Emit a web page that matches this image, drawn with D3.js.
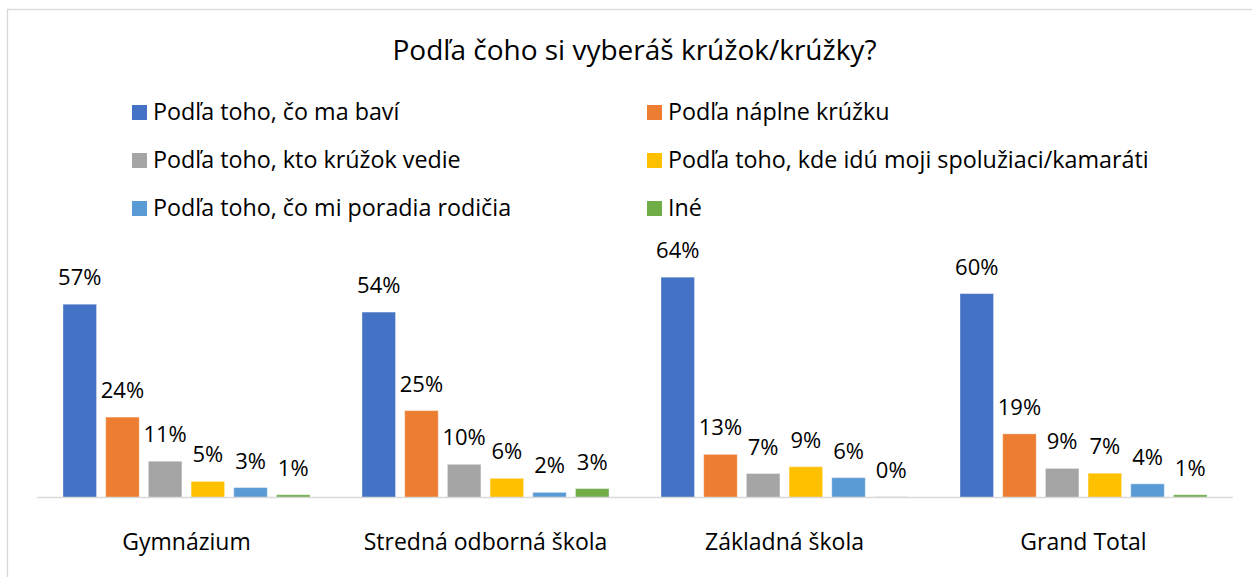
<!DOCTYPE html>
<html>
<head>
<meta charset="utf-8">
<script src="https://cdn.jsdelivr.net/npm/d3@7"></script>
<style>
body { margin: 0; background: #fff; }
text { font-family: "Open Sans", Lato, sans-serif; fill: #000; }
</style>
</head>
<body>
<svg width="1252" height="577"></svg>
<script>
// chart data
var title = 'Podľa čoho si vyberáš krúžok/krúžky?'
var categories = ['Gymnázium', 'Stredná odborná škola', 'Základná škola', 'Grand Total']
var series = ['Podľa toho, čo ma baví', 'Podľa náplne krúžku', 'Podľa toho, kto krúžok vedie',
	      'Podľa toho, kde idú moji spolužiaci/kamaráti', 'Podľa toho, čo mi poradia rodičia', 'Iné']
var colors = ['#4472C4', '#ED7D31', '#A5A5A5', '#FFC000', '#5B9BD5', '#70AD47']
// one array per series, values in % per category
var bavi = [56.5, 54.2, 64.4, 59.6]
var naplne = [23.5, 25.4, 12.6, 18.6]
var vedie = [10.6, 9.7, 7.0, 8.5]
var kamarati = [4.7, 5.6, 9.0, 7.1]
var rodicia = [2.9, 1.5, 5.8, 4.0]
var ine = [0.8, 2.6, 0.2, 0.8]
var values = [bavi, naplne, vedie, kamarati, rodicia, ine]

var svg = d3.select('svg')

svg.append('rect')
    .attr('x', 7.5).attr('y', 9.5)
    .attr('width', 1260).attr('height', 600)
    .attr('fill', 'none')
    .attr('stroke', '#D9D9D9')
    .attr('stroke-width', 1.3)

svg.append('text')
    .attr('x', 634.5).attr('y', 60)
    .attr('text-anchor', 'middle')
    .style('font-size', '28px')
    .text(title)

// legend, two columns
var legend = svg.append('g')
series.forEach(function(name, i) {
    var col = i % 2, row = Math.floor(i / 2)
    var gx = col == 0 ? 132 : 647
    var gy = 120 + row * 48
    legend.append('rect')
	.attr('x', gx).attr('y', gy - 15)
	.attr('width', 15).attr('height', 15)
	.attr('fill', colors[i])
    legend.append('text')
	.attr('x', gx + 21).attr('y', gy)
	.style('font-size', '23.3px')
	.text(name)
})

var baseline = 497.5
var x0 = d3.scaleBand()
    .domain(categories)
    .range([37, 1233])
    .paddingInner(0.174)
    .paddingOuter(0.087)
var x1 = d3.scaleBand()
    .domain(d3.range(series.length))
    .range([0, x0.bandwidth()])
    .paddingInner(0.215)
var y = d3.scaleLinear()
    .domain([0, 64.4])
    .range([baseline, baseline - 220.3])

var groups = svg.selectAll('g.cat')
    .data(categories)
    .enter().append('g')
    .attr('class', 'cat')
    .attr('transform', function(d) { return 'translate(' + x0(d) + ',0)' })

groups.each(function(cat, ci) {
    var g = d3.select(this)
    var bars = values.map(function(v, si) { return {s: si, v: v[ci]} })
    g.selectAll('rect')
	.data(bars)
	.enter().append('rect')
	.attr('x', function(d) { return x1(d.s) })
	.attr('y', function(d) { return y(d.v) })
	.attr('width', x1.bandwidth())
	.attr('height', function(d) { return baseline - y(d.v) })
	.attr('fill', function(d) { return colors[d.s] })
	.attr('stroke', 'rgba(255,255,255,0.35)')
	.attr('stroke-width', 1)
    g.selectAll('text')
	.data(bars)
	.enter().append('text')
	.attr('x', function(d) { return x1(d.s) + x1.bandwidth() / 2 })
	.attr('y', function(d) { return y(d.v) - 19 })
	.attr('text-anchor', 'middle')
	.style('font-size', '22px')
	.text(function(d) { return Math.round(d.v) + '%' })
})

// category axis
var axis = svg.append('g')
    .attr('transform', 'translate(0,' + baseline + ')')
    .call(d3.axisBottom(x0).tickSize(0).tickPadding(0))
axis.select('.domain')
    .attr('stroke', '#D9D9D9')
    .attr('stroke-width', 1.5)
    .attr('d', 'M37,0H1233')
axis.selectAll('text')
    .attr('dy', 0)
    .attr('y', 52)
    .style('font-size', '23px')
    .style('font-family', '"Open Sans", Lato, sans-serif')
    .attr('fill', '#000')
</script>
</body>
</html>
